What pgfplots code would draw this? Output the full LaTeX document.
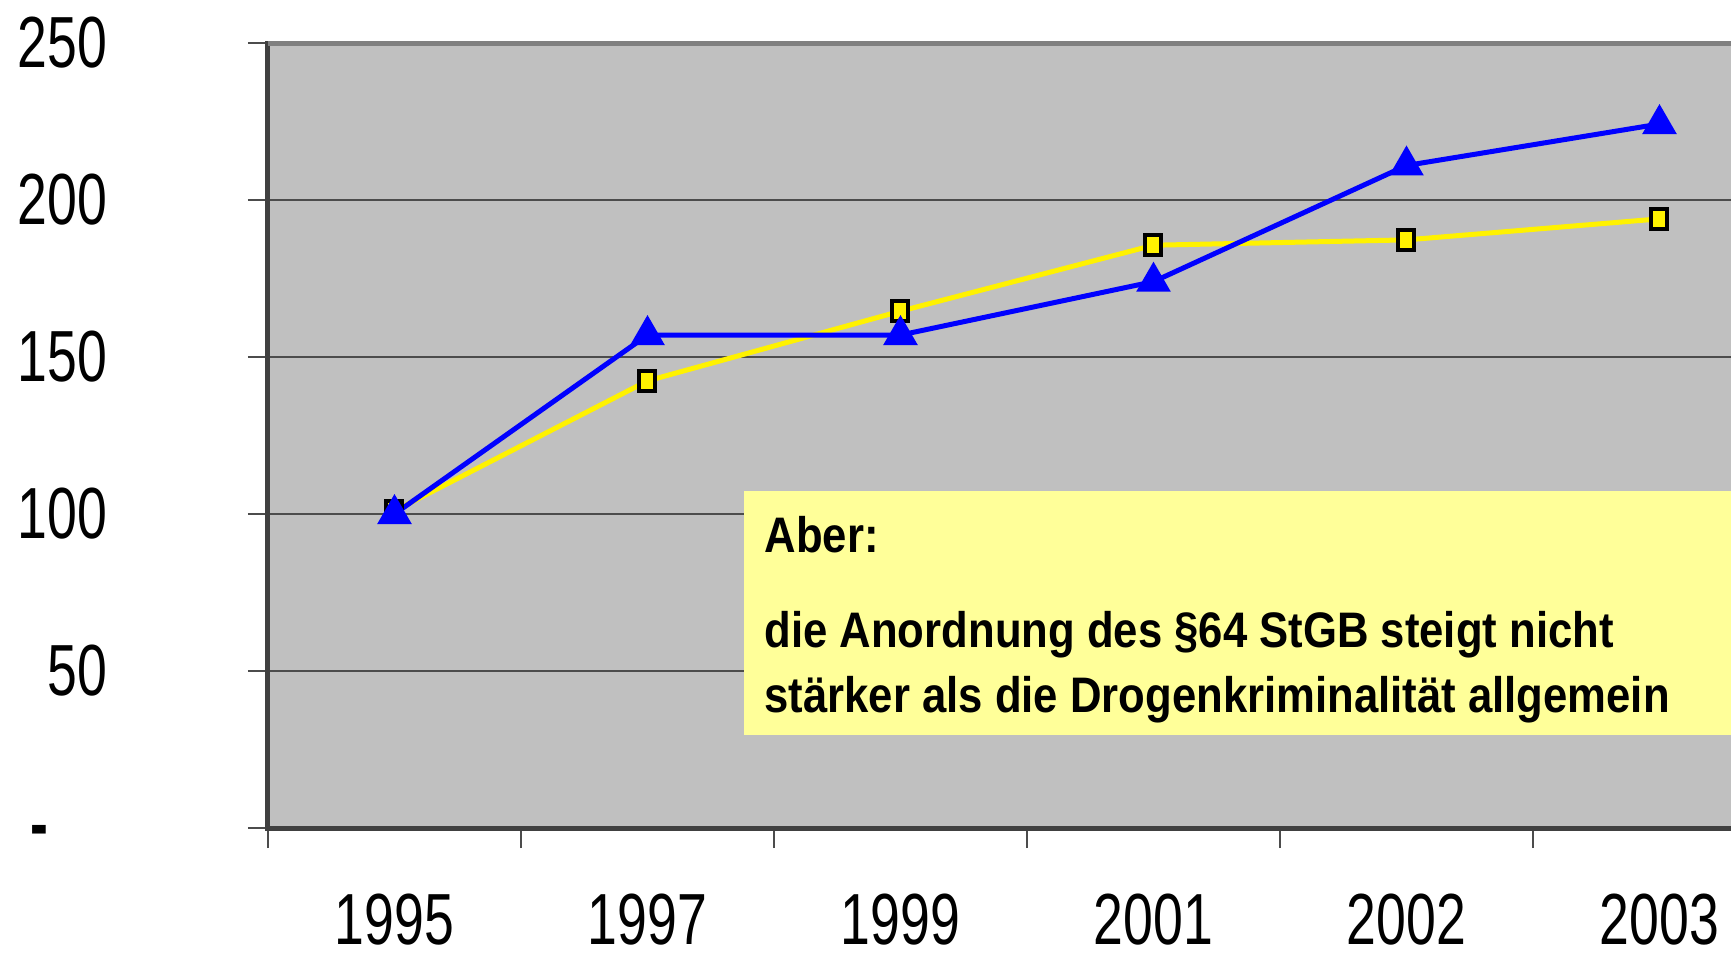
\documentclass[border=0pt]{standalone}
\usepackage{fontspec}
\setmainfont{Liberation Sans}[FakeStretch=0.74]
\newfontfamily\annfont{Liberation Sans}[FakeStretch=0.875]
\usepackage{pgfplots}
\pgfplotsset{compat=1.18}
\definecolor{plotgray}{HTML}{C0C0C0}
\definecolor{notebg}{HTML}{FFFF99}
\begin{document}
\begin{tikzpicture}
\path[use as bounding box, clip] (-26.8mm,-12.9mm) rectangle (146.3mm,82.8mm);
\begin{axis}[
  scale only axis,
  width=151.8mm, height=78.5mm,
  xmin=-0.5, xmax=5.5, ymin=0, ymax=250,
  axis background/.style={fill=plotgray},
  axis line style={black!75, line width=0.5mm},
  xtick={-0.5,0.5,...,5.5},
  x tick label as interval,
  xticklabels={1995,1997,1999,2001,2002,2003},
  ytick={0,50,100,150,200,250},
  yticklabels={{\raisebox{-2mm}[0pt][0pt]{\textbf{-}}\hspace*{5.9mm}},50,100,150,200,250},
  tick align=outside,
  major tick length=2mm,
  tick style={black!70, line width=0.2mm},
  xtick pos=bottom, ytick pos=left,
  ymajorgrids,
  major grid style={black!70, line width=0.2mm},
  ticklabel style={font=\fontsize{20.6}{24}\selectfont, inner sep=0pt},
  yticklabel style={anchor=east, xshift=-14.0mm},
  xticklabel style={anchor=base, yshift=-9.6mm},
  clip=false,
]
\fill[notebg] (axis cs:1.381,29.6) rectangle (axis cs:5.5,107.3);
\addplot[color=yellow, line width=0.5mm, mark=square*, mark size=0.8mm,
  mark options={fill=yellow, draw=black, line width=0.4mm, yscale=1.25}]
  coordinates {(0,101) (1,142.4) (2,164.6) (3,185.6) (4,187.3) (5,194)};
\addplot[color=blue, line width=0.5mm, mark=triangle*, mark size=1.5mm,
  mark options={fill=blue, draw=blue}]
  coordinates {(0,100) (1,157) (2,157) (3,174) (4,211) (5,224.2)};
\node[anchor=base west, inner sep=0pt, font=\annfont\bfseries\fontsize{14.2}{17}\selectfont] at (axis cs:1.46,87.6) {Aber:};
\node[anchor=base west, inner sep=0pt, font=\annfont\bfseries\fontsize{14.2}{17}\selectfont] at (axis cs:1.46,57.6) {die Anordnung des §64 StGB steigt nicht};
\node[anchor=base west, inner sep=0pt, font=\annfont\bfseries\fontsize{14.2}{17}\selectfont] at (axis cs:1.46,36.9) {stärker als die Drogenkriminalität allgemein};
\draw[black!50, line width=0.5mm] (axis cs:-0.5,250) -- (axis cs:5.5,250);
\end{axis}
\end{tikzpicture}
\end{document}
